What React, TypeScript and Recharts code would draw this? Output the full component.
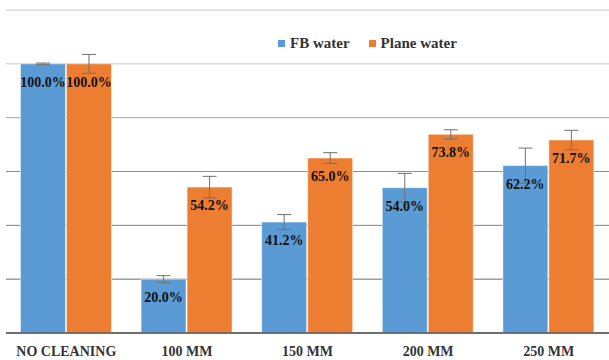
import { BarChart, Bar, XAxis, YAxis, CartesianGrid, ErrorBar, LabelList } from 'recharts'

const categories = ['NO CLEANING', '100 MM', '150 MM', '200 MM', '250 MM']
const fbWater = [100, 20.0, 41.2, 54.0, 62.2]
const planeWater = [100, 54.2, 65.0, 73.8, 71.7]
const fbError = [0.3, 1.3, 2.8, 5.3, 6.5]
const planeError = [3.5, 4.0, 2.0, 1.7, 3.6]
const yTicks = [0, 20, 40, 60, 80, 100, 120]

const data = categories.map((name, i) => ({
  name,
  fb: fbWater[i],
  plane: planeWater[i],
  fbErr: fbError[i],
  planeErr: planeError[i],
}))

const BLUE = '#5B9BD5'
const ORANGE = '#ED7D31'
const SERIF = "'Liberation Serif', 'DejaVu Serif', serif"

// gridlines get darker towards the bottom in the original
const gridColors = ['#595959', '#707070', '#808080', '#909090', '#a8a8a8', '#c8c8c8', '#c8c8c8']

const GridLine = (props: any) => {
  const { x1, x2, y1, y2, index } = props
  return <line x1={x1} x2={x2} y1={y1} y2={y2} stroke={gridColors[index] || '#999'} strokeWidth={1} />
}

const ValueLabel = (props: any) => {
  const { x, y, width, value } = props
  return (
    <text
      x={x + width / 2}
      y={y + 23}
      textAnchor="middle"
      fontFamily={SERIF}
      fontWeight="bold"
      fontSize={14}
      fill="#111"
    >
      {Number(value).toFixed(1)}%
    </text>
  )
}

const CategoryTick = (props: any) => {
  const { x, y, payload } = props
  return (
    <text
      x={x}
      y={y + 23}
      textAnchor="middle"
      fontFamily={SERIF}
      fontWeight="bold"
      fontSize={14}
      fill="#333"
    >
      {payload.value}
    </text>
  )
}

export default function App() {
  return (
    <div style={{ position: 'relative', width: 609, height: 360, background: '#fff' }}>
      <style>{`body{margin:0}`}</style>
      <BarChart
        width={609}
        height={360}
        data={data}
        margin={{ top: 10, right: 0, bottom: 0, left: 6 }}
        barCategoryGap="12%"
        barGap={1}
      >
        <CartesianGrid vertical={false} horizontal={<GridLine />} />
        <XAxis
          dataKey="name"
          height={27}
          tickLine={false}
          tickSize={0}
          tickMargin={0}
          axisLine={{ stroke: '#595959', strokeWidth: 1.5 }}
          tick={<CategoryTick />}
          interval={0}
        />
        <YAxis hide domain={[0, 120]} ticks={yTicks} />
        <Bar dataKey="fb" name="FB water" fill={BLUE} stroke="#ffffff" strokeOpacity={0.5} isAnimationActive={false}>
          <ErrorBar dataKey="fbErr" width={7} stroke="#707070" strokeWidth={1} />
          <LabelList dataKey="fb" content={<ValueLabel />} />
        </Bar>
        <Bar dataKey="plane" name="Plane water" fill={ORANGE} stroke="#ffffff" strokeOpacity={0.5} isAnimationActive={false}>
          <ErrorBar dataKey="planeErr" width={7} stroke="#707070" strokeWidth={1} />
          <LabelList dataKey="plane" content={<ValueLabel />} />
        </Bar>
      </BarChart>
      <div
        style={{
          position: 'absolute',
          top: 34,
          left: 278,
          display: 'flex',
          alignItems: 'center',
          fontFamily: SERIF,
          fontWeight: 'bold',
          fontSize: 15,
          color: '#333',
          lineHeight: '18px',
        }}
      >
        <span style={{ width: 7, height: 7, background: BLUE, marginRight: 5 }} />
        <span style={{ marginRight: 19 }}>FB water</span>
        <span style={{ width: 7, height: 7, background: ORANGE, marginRight: 5 }} />
        <span>Plane water</span>
      </div>
    </div>
  )
}
